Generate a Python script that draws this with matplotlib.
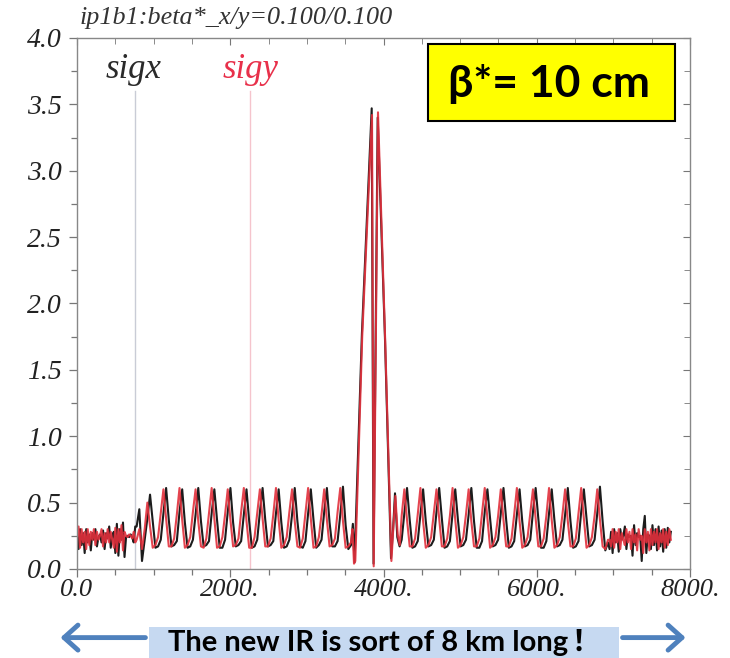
import numpy as np
import matplotlib
matplotlib.use('Agg')
from matplotlib import pyplot as plt
from matplotlib.patches import Rectangle, FancyArrowPatch

# beam size along the ring (s in m)
left_noise_black = [0.28, 0.15, 0.30, 0.18, 0.27, 0.12, 0.30, 0.20, 0.26, 0.14,
                    0.27, 0.22, 0.30, 0.17, 0.24, 0.26, 0.20, 0.29, 0.15, 0.27,
                    0.23, 0.32, 0.16, 0.25, 0.28, 0.12, 0.34, 0.10, 0.30, 0.22,
                    0.35, 0.09, 0.24, 0.25, 0.24, 0.26, 0.24, 0.20, 0.32]
left_noise_red = [0.24, 0.32, 0.16, 0.30, 0.20, 0.28, 0.15, 0.30, 0.18, 0.28,
                  0.22, 0.30, 0.18, 0.28, 0.22, 0.25, 0.30, 0.17, 0.27, 0.20,
                  0.30, 0.20, 0.28, 0.22, 0.16, 0.31, 0.13, 0.30, 0.20, 0.33,
                  0.14, 0.28, 0.25, 0.24, 0.26, 0.25, 0.23, 0.28, 0.20]

arc_left_black = [0.32, 0.45, 0.06, 0.22, 0.38, 0.56,
                  0.36, 0.16, 0.17, 0.22, 0.42, 0.61,
                  0.37, 0.17, 0.18, 0.21, 0.43, 0.60,
                  0.35, 0.16, 0.17, 0.22, 0.41, 0.61,
                  0.36, 0.17, 0.18, 0.21, 0.42, 0.60,
                  0.37, 0.16, 0.16, 0.22, 0.43, 0.61,
                  0.35, 0.17, 0.18, 0.21, 0.41, 0.60,
                  0.36, 0.16, 0.17, 0.22, 0.43, 0.61,
                  0.37, 0.17, 0.18, 0.21, 0.42, 0.60,
                  0.35, 0.16, 0.17, 0.22, 0.41, 0.61,
                  0.36, 0.17, 0.16, 0.21, 0.42, 0.60,
                  0.37, 0.16, 0.18, 0.22, 0.43, 0.61,
                  0.35, 0.17, 0.17, 0.21, 0.41, 0.62,
                  0.33, 0.15, 0.18]
arc_left_red = [0.22, 0.30, 0.15, 0.30, 0.50, 0.32,
                0.16, 0.18, 0.24, 0.42, 0.60, 0.38,
                0.17, 0.17, 0.23, 0.41, 0.61, 0.37,
                0.16, 0.18, 0.24, 0.43, 0.60, 0.36,
                0.17, 0.16, 0.23, 0.42, 0.61, 0.38,
                0.16, 0.17, 0.24, 0.41, 0.60, 0.37,
                0.17, 0.18, 0.23, 0.43, 0.61, 0.36,
                0.16, 0.16, 0.24, 0.42, 0.60, 0.38,
                0.17, 0.17, 0.23, 0.41, 0.61, 0.37,
                0.16, 0.18, 0.24, 0.43, 0.60, 0.36,
                0.17, 0.16, 0.23, 0.42, 0.61, 0.38,
                0.16, 0.17, 0.24, 0.41, 0.60, 0.37,
                0.17, 0.18, 0.23, 0.43, 0.61, 0.36,
                0.16, 0.17, 0.20]

ir_s_black = [3600, 3622, 3718, 3846, 3870, 3924, 4019, 4098, 4125, 4150, 4180, 4210]
ir_black = [0.34, 0.05, 1.77, 3.47, 0.04, 3.40, 1.74, 0.08, 0.30, 0.57, 0.24, 0.17]
ir_s_red = [3595, 3615, 3632, 3722, 3850, 3872, 3928, 4022, 4103, 4130, 4155, 4185, 4212]
ir_red = [0.30, 0.04, 0.06, 1.75, 3.42, 0.02, 3.44, 1.72, 0.06, 0.33, 0.55, 0.26, 0.18]

arc_right_black = [0.22, 0.42, 0.61, 0.37, 0.16, 0.17,
                   0.21, 0.41, 0.60, 0.36, 0.17, 0.18,
                   0.22, 0.43, 0.61, 0.38, 0.16, 0.17,
                   0.21, 0.42, 0.60, 0.37, 0.17, 0.18,
                   0.22, 0.41, 0.61, 0.36, 0.16, 0.16,
                   0.21, 0.43, 0.60, 0.38, 0.17, 0.18,
                   0.22, 0.42, 0.61, 0.37, 0.16, 0.17,
                   0.21, 0.41, 0.60, 0.36, 0.17, 0.18,
                   0.22, 0.43, 0.61, 0.38, 0.16, 0.16,
                   0.21, 0.42, 0.60, 0.37, 0.17, 0.18,
                   0.22, 0.41, 0.61, 0.36, 0.16, 0.17,
                   0.21, 0.43, 0.60, 0.38, 0.17, 0.18,
                   0.22, 0.42, 0.62, 0.36, 0.14, 0.20]
arc_right_red = [0.40, 0.60, 0.37, 0.17, 0.17, 0.23,
                 0.41, 0.61, 0.36, 0.16, 0.18, 0.24,
                 0.42, 0.60, 0.38, 0.17, 0.17, 0.23,
                 0.40, 0.61, 0.37, 0.16, 0.18, 0.24,
                 0.41, 0.60, 0.36, 0.17, 0.17, 0.23,
                 0.42, 0.61, 0.38, 0.16, 0.18, 0.24,
                 0.40, 0.60, 0.37, 0.17, 0.17, 0.23,
                 0.41, 0.61, 0.36, 0.16, 0.18, 0.24,
                 0.42, 0.60, 0.38, 0.17, 0.17, 0.23,
                 0.40, 0.61, 0.37, 0.16, 0.18, 0.24,
                 0.41, 0.60, 0.36, 0.17, 0.17, 0.23,
                 0.42, 0.61, 0.38, 0.16, 0.18, 0.24,
                 0.40, 0.60, 0.37, 0.17, 0.15, 0.22]

right_noise_black = [0.15, 0.28, 0.12, 0.30, 0.20, 0.27, 0.13, 0.30, 0.22, 0.25,
                     0.32, 0.15, 0.26, 0.24, 0.25, 0.10, 0.33, 0.18, 0.27, 0.24,
                     0.25, 0.06, 0.30, 0.40, 0.12, 0.26, 0.25, 0.15, 0.33, 0.18,
                     0.30, 0.14, 0.32, 0.17, 0.29, 0.13, 0.30, 0.16, 0.31, 0.20,
                     0.28]
right_noise_red = [0.22, 0.17, 0.30, 0.16, 0.28, 0.20, 0.30, 0.15, 0.27, 0.22,
                   0.18, 0.30, 0.20, 0.28, 0.15, 0.30, 0.20, 0.26, 0.14, 0.30,
                   0.22, 0.25, 0.12, 0.30, 0.20, 0.28, 0.14, 0.30, 0.18, 0.28,
                   0.20, 0.30, 0.15, 0.27, 0.20, 0.30, 0.16, 0.28, 0.18, 0.30,
                   0.22]

# grid of the pieces (m)
left_noise_end = 760
arc_step = 34.97
arc_left_start = 778.2
arc_right_start = 4237
right_noise_start, right_noise_end = 6950, 7750

x_major = [0, 2000, 4000, 6000, 8000]
x_labels = ['0.0', '2000.', '4000.', '6000.', '8000.']
y_major = [0.0, 0.5, 1.0, 1.5, 2.0, 2.5, 3.0, 3.5, 4.0]

sigx_mark, sigy_mark = 757, 2258


def build(noise_l, arc_l, ir_s, ir_v, arc_r, noise_r):
    s = np.concatenate([np.linspace(0, left_noise_end, len(noise_l)),
                        arc_left_start + arc_step * np.arange(len(arc_l)),
                        ir_s,
                        arc_right_start + arc_step * np.arange(len(arc_r)),
                        np.linspace(right_noise_start, right_noise_end, len(noise_r))])
    v = np.concatenate([noise_l, arc_l, ir_v, arc_r, noise_r])
    return s, v


s_x, sig_x = build(left_noise_black, arc_left_black, ir_s_black, ir_black,
                   arc_right_black, right_noise_black)
s_y, sig_y = build(left_noise_red, arc_left_red, ir_s_red, ir_red,
                   arc_right_red, right_noise_red)

serif = dict(family='Liberation Serif', style='italic')
black_c = '#1c1c1c'
red_c = '#e2303c'

fig = plt.figure(figsize=(7.3, 6.58), dpi=100)
ax = fig.add_axes([0.1055, 0.1353, 0.8397, 0.807])

ax.axvline(sigx_mark, ymin=0.0, ymax=0.9, color='#c9ccd6', lw=1)
ax.axvline(sigy_mark, ymin=0.0, ymax=0.9, color='#f5c4cc', lw=1)
ax.plot(s_x, sig_x, color=black_c, lw=1.5)
ax.plot(s_y, sig_y, color=red_c, lw=1.5, alpha=0.9)

ax.text(sigx_mark - 20, 3.70, 'sigx', color='#2a2a2a', fontsize=25, ha='center', va='baseline', **serif)
ax.text(sigy_mark, 3.70, 'sigy', color='#e8304a', fontsize=25, ha='center', va='baseline', **serif)

ax.set_xlim(0, 8000)
ax.set_ylim(0, 4)
ax.set_xticks(x_major)
ax.set_xticklabels(x_labels, fontsize=19, **serif)
ax.set_xticks(np.arange(0, 8001, 500), minor=True)
ax.set_yticks(y_major)
ax.set_yticklabels(['%.1f' % v for v in y_major], fontsize=20, **serif)
ax.set_yticks(np.arange(0, 4.01, 0.25), minor=True)
ax.tick_params(which='major', direction='out', length=6, width=0.9, color='#777777', labelcolor='#222222')
ax.tick_params(which='minor', direction='out', length=4, width=0.9, color='#777777')
ax.tick_params(axis='x', pad=1)
ax.tick_params(axis='y', pad=5)
for sp in ax.spines.values():
    sp.set_color('#888888')
    sp.set_linewidth(1)

top = ax.secondary_xaxis('top')
top.set_xticks(x_major)
top.set_xticks(np.arange(0, 8001, 500), minor=True)
top.tick_params(which='both', direction='in', labeltop=False, color='#777777')
top.tick_params(which='major', length=5)
top.tick_params(which='minor', length=4)
top.spines['top'].set_visible(False)
right = ax.secondary_yaxis('right')
right.set_yticks(y_major)
right.set_yticks(np.arange(0, 4.01, 0.25), minor=True)
right.tick_params(which='both', direction='in', labelright=False, color='#777777')
right.tick_params(which='major', length=5)
right.tick_params(which='minor', length=4)
right.spines['right'].set_visible(False)

fig.text(0.1096, 0.972, 'ip1b1:beta*_x/y=0.100/0.100', fontsize=18.8, color='#333333',
         va='center', ha='left', **serif)

# yellow label box
fig.add_artist(Rectangle((0.586, 0.816), 0.338, 0.117, transform=fig.transFigure,
                         facecolor='#ffff00', edgecolor='black', lw=1.5))
fig.text(0.752, 0.872, 'β*= 10 cm', fontsize=32, fontweight='bold',
         family=['Lato', 'DejaVu Sans'], ha='center', va='center')

# bottom note with arrows
fig.add_artist(Rectangle((0.204, 0.0), 0.644, 0.047, transform=fig.transFigure,
                         facecolor='#c6d9f1', edgecolor='none'))
fig.text(0.526, 0.024, 'The new IR is sort of 8 km long\u2009！', fontsize=21, fontweight='bold',
         family=['Lato', 'Noto Sans CJK SC'], ha='center', va='center')
arrow_style = '->,head_length=0.5,head_width=0.45'
fig.add_artist(FancyArrowPatch((0.203, 0.031), (0.079, 0.031), transform=fig.transFigure,
                               arrowstyle=arrow_style, lw=3.5, color='#4f81bd', mutation_scale=20))
fig.add_artist(FancyArrowPatch((0.849, 0.031), (0.943, 0.031), transform=fig.transFigure,
                               arrowstyle=arrow_style, lw=3.5, color='#4f81bd', mutation_scale=20))

fig.savefig('out.png', dpi=100, facecolor='white')
